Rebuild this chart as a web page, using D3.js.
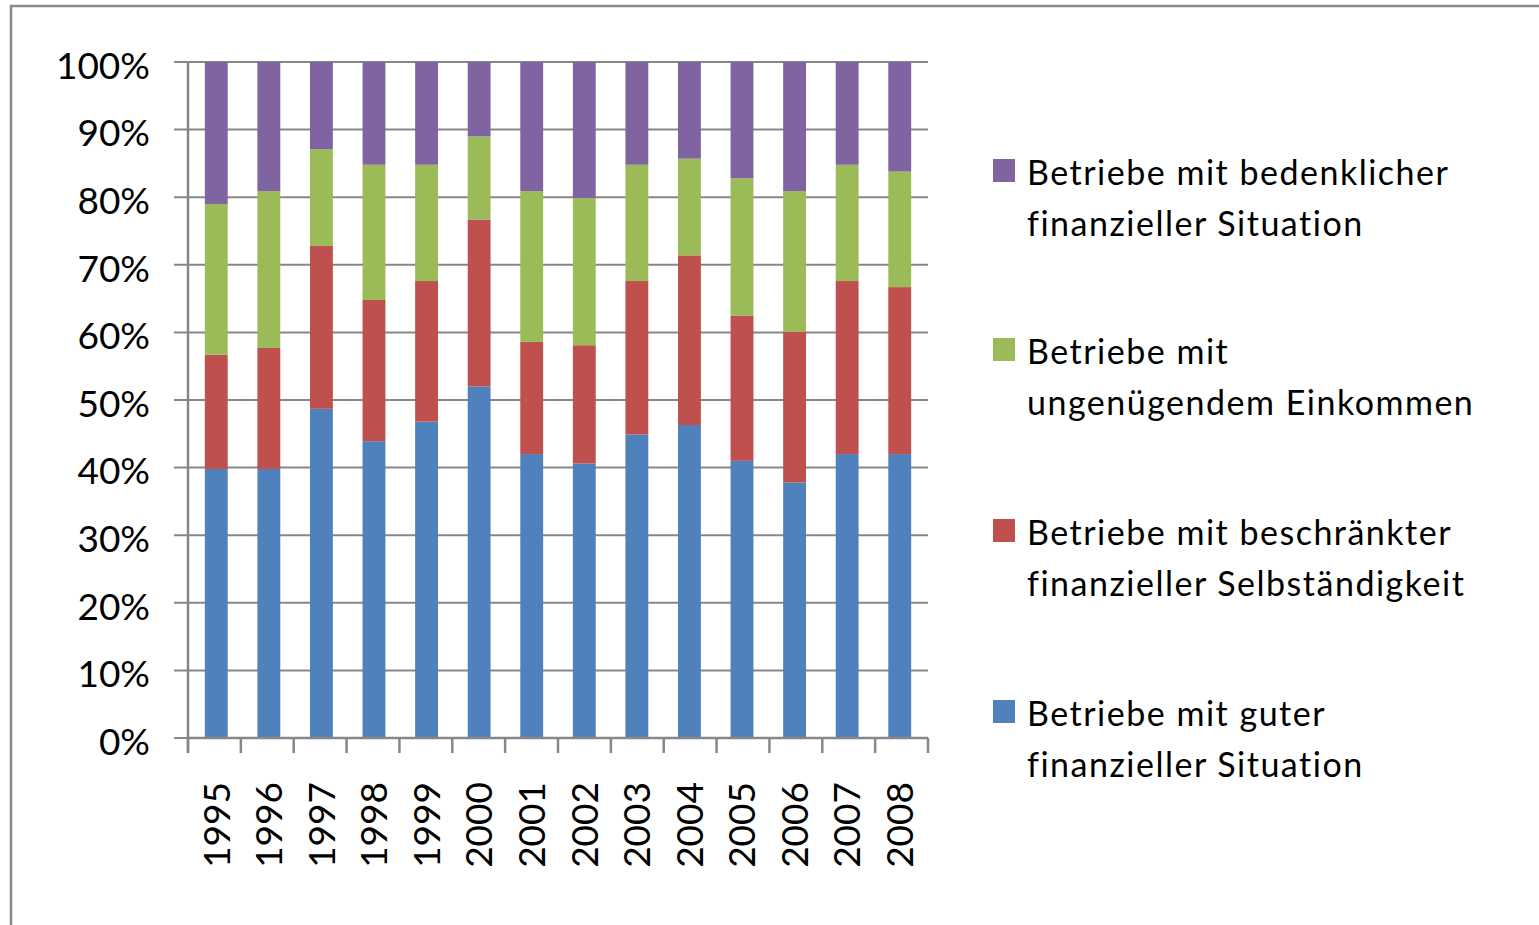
<!DOCTYPE html>
<html>
<head>
<meta charset="utf-8">
<script src="https://cdn.jsdelivr.net/npm/d3@7"></script>
<style>
  body { margin: 0; background: #fff; }
  text { font-family: Lato, "Open Sans", sans-serif; fill: #000; font-variant-ligatures: none; }
</style>
</head>
<body>
<div id="chart"></div>
<script>
// data (shares in %)
var years = ['1995','1996','1997','1998','1999','2000','2001','2002','2003','2004','2005','2006','2007','2008'];
var gut        = [39.8, 39.8, 48.7, 43.9, 46.8, 52.0, 42.0, 40.6, 44.9, 46.3, 41.0, 37.8, 42.0, 42.0];
var beschraenkt = [16.9, 17.9, 24.1, 20.9, 20.8, 24.7, 16.6, 17.5, 22.7, 25.1, 21.5, 22.3, 25.6, 24.7];
var ungenuegend = [22.3, 23.2, 14.3, 20.0, 17.2, 12.3, 22.3, 21.8, 17.2, 14.3, 20.3, 20.8, 17.2, 17.1];
var bedenklich  = [21.0, 19.1, 12.9, 15.2, 15.2, 11.0, 19.1, 20.1, 15.2, 14.3, 17.2, 19.1, 15.2, 16.2];
var yTicks = [0, 0.1, 0.2, 0.3, 0.4, 0.5, 0.6, 0.7, 0.8, 0.9, 1];

var seriesKeys = ['gut', 'beschraenkt', 'ungenuegend', 'bedenklich'];
var seriesColors = {gut: '#4F81BD', beschraenkt: '#C0504D', ungenuegend: '#9BBB59', bedenklich: '#8064A2'};
var legendItems = [
  {key: 'bedenklich', lines: ['Betriebe mit bedenklicher', 'finanzieller Situation']},
  {key: 'ungenuegend', lines: ['Betriebe mit', 'ungenügendem Einkommen']},
  {key: 'beschraenkt', lines: ['Betriebe mit beschränkter', 'finanzieller Selbständigkeit']},
  {key: 'gut', lines: ['Betriebe mit guter', 'finanzieller Situation']}
];

var rows = years.map(function(y, i) {
  return {year: y, gut: gut[i], beschraenkt: beschraenkt[i], ungenuegend: ungenuegend[i], bedenklich: bedenklich[i]};
});

var width = 1539, height = 925;
var plotLeft = 188, plotRight = 928, plotTop = 62, plotBottom = 738;

var svg = d3.select('#chart').append('svg')
    .attr('width', width)
    .attr('height', height);

// outer frame (only top and left visible)
svg.append('path')
    .attr('d', 'M11,' + height + 'V6H' + width)
    .attr('fill', 'none')
    .attr('stroke', '#8a8a8a')
    .attr('stroke-width', 2.5);

var x = d3.scaleBand()
    .domain(years)
    .range([plotLeft, plotRight])
    .paddingInner(0.565)
    .paddingOuter(0.32);

var y = d3.scaleLinear()
    .domain([0, 1])
    .range([plotBottom, plotTop]);

var stacked = d3.stack()
    .keys(seriesKeys)
    .offset(d3.stackOffsetExpand)(rows);

// gridlines
svg.append('g').selectAll('line')
    .data(yTicks)
  .enter().append('line')
    .attr('x1', plotLeft - 14)
    .attr('x2', plotRight)
    .attr('y1', function(d) { return y(d); })
    .attr('y2', function(d) { return y(d); })
    .attr('stroke', '#878787')
    .attr('stroke-width', 2);

// bars
svg.append('g').selectAll('g')
    .data(stacked)
  .enter().append('g')
    .attr('fill', function(d) { return seriesColors[d.key]; })
  .selectAll('rect')
    .data(function(d) { return d; })
  .enter().append('rect')
    .attr('x', function(d) { return x(d.data.year); })
    .attr('width', x.bandwidth())
    .attr('y', function(d) { return y(d[1]); })
    .attr('height', function(d) { return y(d[0]) - y(d[1]); });

// y axis
var yAxis = d3.axisLeft(y)
    .tickValues(yTicks)
    .tickFormat(d3.format('.0%'))
    .tickSize(0)
    .tickPadding(38);

var gy = svg.append('g')
    .attr('transform', 'translate(' + plotLeft + ',0)')
    .call(yAxis);
gy.select('.domain').remove();
gy.selectAll('text')
    .attr('font-size', 37)
    .attr('font-family', null)
    .attr('dy', '0.44em');

svg.append('line')
    .attr('x1', plotLeft).attr('x2', plotLeft)
    .attr('y1', plotTop).attr('y2', plotBottom + 15)
    .attr('stroke', '#878787')
    .attr('stroke-width', 2.5);

// x axis: tick marks at category boundaries
var bounds = d3.range(years.length + 1);
svg.append('g').selectAll('line')
    .data(bounds)
  .enter().append('line')
    .attr('x1', function(i) { return plotLeft + i * (plotRight - plotLeft) / years.length; })
    .attr('x2', function(i) { return plotLeft + i * (plotRight - plotLeft) / years.length; })
    .attr('y1', plotBottom)
    .attr('y2', plotBottom + 15)
    .attr('stroke', '#878787')
    .attr('stroke-width', 2.5);

svg.append('line')
    .attr('x1', plotLeft).attr('x2', plotRight)
    .attr('y1', plotBottom).attr('y2', plotBottom)
    .attr('stroke', '#878787')
    .attr('stroke-width', 2.5);

svg.append('g').selectAll('text')
    .data(years)
  .enter().append('text')
    .attr('transform', function(d) {
      return 'translate(' + (x(d) + x.bandwidth() / 2) + ',782) rotate(-90)';
    })
    .attr('text-anchor', 'end')
    .attr('dy', '0.36em')
    .attr('font-size', 37)
    .text(function(d) { return d; });

// legend
var legendY = [159, 338, 519, 700];
var leg = svg.append('g').selectAll('g')
    .data(legendItems)
  .enter().append('g')
    .attr('transform', function(d, i) { return 'translate(993,' + legendY[i] + ')'; });

leg.append('rect')
    .attr('width', 22)
    .attr('height', 23)
    .attr('fill', function(d) { return seriesColors[d.key]; });

leg.append('text')
    .attr('x', 34)
    .attr('font-size', 34)
    .attr('letter-spacing', 1.5)
    .selectAll('tspan')
    .data(function(d) { return d.lines; })
  .enter().append('tspan')
    .attr('x', 34)
    .attr('y', function(d, i) { return 26 + i * 51; })
    .text(function(d) { return d; });
</script>
</body>
</html>
